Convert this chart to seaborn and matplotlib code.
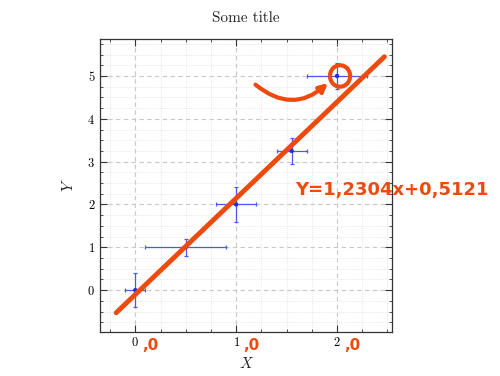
import matplotlib
matplotlib.use("Agg")
import matplotlib.pyplot as plt
from matplotlib.patches import Ellipse
from matplotlib.ticker import MultipleLocator
import pandas as pd
import seaborn as sns

# measured points with their error bars
x_vals = [0.0, 0.5, 1.0, 1.55, 2.0]
y_vals = [0.0, 1.0, 2.0, 3.25, 5.0]
x_err = [0.1, 0.4, 0.2, 0.15, 0.3]
y_err = [0.4, 0.2, 0.4, 0.3, 0.3]

# hand-drawn fit line end points
fit_x = [-0.19, 2.47]
fit_y = [-0.53, 5.45]

fit_label = "Y=1,2304x+0,5121"
tick_suffix = ",0"
x_ticks = [0, 1, 2]
y_ticks = [0, 1, 2, 3, 4, 5]

orange = "#ee4a0e"
blue = "#1a2ef0"

sns.set_theme(style="ticks")
plt.rcParams["font.family"] = ["cmr10", "DejaVu Serif"]
plt.rcParams["mathtext.fontset"] = "cm"
plt.rcParams["axes.formatter.use_mathtext"] = True

df = pd.DataFrame({"x": x_vals, "y": y_vals})
fit_df = pd.DataFrame({"x": fit_x, "y": fit_y})

fig = plt.figure(figsize=(5, 3.76), dpi=100)
ax = fig.add_axes([0.2, 0.118, 0.585, 0.779])

ax.errorbar(x_vals, y_vals, xerr=x_err, yerr=y_err, fmt="none",
            ecolor="#4a5ae6", elinewidth=0.9, capsize=1.5, capthick=0.9, zorder=3)
sns.scatterplot(data=df, x="x", y="y", color=blue, s=10, edgecolor="none", ax=ax, zorder=4)
sns.lineplot(data=fit_df, x="x", y="y", color=orange, lw=3.5, ax=ax, zorder=5,
             solid_capstyle="round")

ax.set_xlim(-0.35, 2.55)
ax.set_ylim(-0.97, 5.87)
ax.set_xticks(x_ticks)
ax.set_yticks(y_ticks)
ax.xaxis.set_minor_locator(MultipleLocator(0.25))
ax.yaxis.set_minor_locator(MultipleLocator(0.25))
ax.tick_params(which="both", direction="in", top=True, right=True, colors="#333333",
               labelcolor="black", labelsize=9)
ax.tick_params(which="major", length=5, width=0.8)
ax.tick_params(which="minor", length=2.5, width=0.6)
ax.grid(which="major", ls=(0, (4, 3)), color="#c8c8c8", lw=0.8)
ax.grid(which="minor", ls=":", color="#dddddd", lw=0.6)
ax.set_axisbelow(True)
for sp in ax.spines.values():
    sp.set_color("#333333")
    sp.set_linewidth(0.9)

ax.set_title("Some title", fontsize=11, pad=12)
ax.set_xlabel("$X$", fontsize=11, labelpad=5)
ax.set_ylabel("$Y$", fontsize=11, labelpad=8)

# hand-written annotations
fig.text(0.59, 0.495, fit_label, color=orange, fontsize=13, fontweight="bold",
         family="DejaVu Sans", ha="left", va="center")
for t in x_ticks:
    ax.annotate(tick_suffix, xy=(t, 0), xycoords=("data", "axes fraction"),
                xytext=(5, -10), textcoords="offset points", color=orange,
                fontsize=11, fontweight="bold", family="DejaVu Sans", va="center")
ax.annotate("", xy=(1.93, 4.88), xytext=(1.17, 4.84),
            arrowprops=dict(arrowstyle="-|>", connectionstyle="arc3,rad=0.45",
                            color=orange, lw=3, mutation_scale=12), zorder=6)
ax.add_patch(Ellipse((2.03, 5.0), 0.2, 0.5, fill=False, ec=orange, lw=3, zorder=6))

fig.savefig("out.png", dpi=100)
